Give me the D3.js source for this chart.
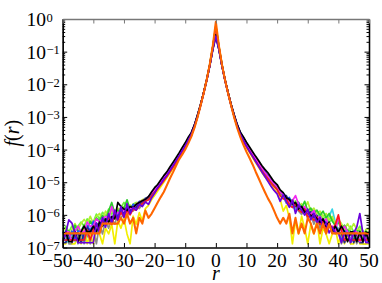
<!DOCTYPE html>
<html><head><meta charset="utf-8">
<script src="https://cdn.jsdelivr.net/npm/d3@7"></script>
<style>
html,body{margin:0;padding:0;background:#fff;}
svg{display:block;}
svg text{font-family:"Liberation Serif","Times New Roman",Tinos,"Nimbus Roman","DejaVu Serif",serif;}
</style>
</head><body>
<svg id="c" width="382" height="283"></svg>
<script>
// ---------------- data ----------------
const rValues = [-50,-49,-48,-47,-46,-45,-44,-43,-42,-41,-40,-39,-38,-37,-36,-35,-34,-33,-32,-31,-30,-29,-28,-27,-26,-25,-24,-23,-22,-21,-20,-19,-18,-17,-16,-15,-14,-13,-12,-11,-10,-9,-8,-7,-6,-5,-4,-3,-2,-1,0,1,2,3,4,5,6,7,8,9,10,11,12,13,14,15,16,17,18,19,20,21,22,23,24,25,26,27,28,29,30,31,32,33,34,35,36,37,38,39,40,41,42,43,44,45,46,47,48,49,50];
const xTickValues = [-50,-40,-30,-20,-10,0,10,20,30,40,50];
const yTickExponents = [0,-1,-2,-3,-4,-5,-6,-7];

const fGray = [1.3e-7,2.6e-7,1.3e-7,1.3e-7,2.6e-7,1.3e-7,2.6e-7,1.3e-7,2.6e-7,1.3e-7, 3.9e-7,1.3e-7,5.2e-7,2.6e-7,6.5e-7,3.9e-7,7.8e-7,5.2e-7,1.04e-6,7.8e-7, 1.17e-6,9.1e-7,1.43e-6,1.3e-6,1.82e-6,1.56e-6,2.2e-6,2.6e-6,2.9e-6,3.7e-6,
 5e-6,6.6e-6,8.7e-6,1.16e-5,1.56e-5,2.14e-5,3.05e-5,4.27e-5,6e-5,8.6e-5, 1.22e-4,1.84e-4,2.8e-4,5e-4,1.02e-3,2.28e-3,5.4e-3,1.36e-2,3.9e-2,1.35e-1, 0.5, 1.35e-1,3.9e-2,1.36e-2,5.4e-3,2.28e-3,1.02e-3,5e-4,2.8e-4,1.87e-4,1.27e-4, 9e-5,6.4e-5,4.55e-5,3.25e-5,2.34e-5,1.73e-5,1.3e-5,9.9e-6,7.8e-6,6.1e-6,
 4.1e-6,3.6e-6,2.3e-6,2.6e-6,1.7e-6,1.95e-6,1.3e-6,1.04e-6,1.43e-6,7.8e-7, 1.04e-6,5.2e-7,9.1e-7,3.9e-7,6.5e-7,2.6e-7,5.2e-7,3.9e-7,2.6e-7,3.9e-7, 1.3e-7,2.6e-7,2.6e-7,1.3e-7,2.6e-7,1.3e-7,2.6e-7,1.3e-7,1.3e-7,2.6e-7];

const fYellow = [1.3e-7,1.3e-7,2.6e-7,1.3e-7,1.3e-7,2.6e-7,1.3e-7,3.9e-7,1.3e-7,2.6e-7, 1.3e-7,3.9e-7,2.6e-7,1.3e-7,3.9e-7,2.6e-7,5.2e-7,1.3e-7,6.5e-7,3.9e-7, 7.8e-7,2.6e-7,1.3e-7,9.1e-7,5.2e-7,1.17e-6,6.5e-7,1.56e-6,1.95e-6,2.9e-6,
 3.9e-6,5.4e-6,7.3e-6,1e-5,1.37e-5,1.89e-5,2.68e-5,3.8e-5,5.4e-5,7.8e-5, 1.12e-4,1.7e-4,2.65e-4,4.8e-4,1e-3,2.25e-3,5.4e-3,1.37e-2,4e-2,1.45e-1, 0.62, 1.45e-1,4e-2,1.37e-2,5.4e-3,2.25e-3,1e-3,4.8e-4,2.65e-4,1.74e-4,1.16e-4, 8.1e-5,5.7e-5,4e-5,2.8e-5,2e-5,1.48e-5,1.1e-5,8.2e-6,6.2e-6,4.8e-6,
 3e-6,1.3e-6,1.95e-6,7.8e-7,1.3e-7,6.5e-7,2.6e-7,9.1e-7,3.9e-7,1.3e-7, 5.2e-7,2.6e-7,6.5e-7,1.3e-7,3.9e-7,2.6e-7,1.3e-7,2.6e-7,3.9e-7,1.3e-7, 2.6e-7,1.3e-7,2.6e-7,1.3e-7,1.3e-7,2.6e-7,1.3e-7,1.3e-7,1.3e-7,1.3e-7];

const fCyan = [3e-7,1.5e-7,1.5e-7,3e-7,3e-7,1.5e-7,3e-7,3e-7,4.5e-7,3e-7, 4.5e-7,3e-7,6e-7,4.5e-7,6e-7,7.5e-7,6e-7,9e-7,7.5e-7,1.2e-6, 1.05e-6,1.35e-6,1.2e-6,1.65e-6,1.5e-6,2.1e-6,2.4e-6,2.7e-6,3.3e-6,4e-6,
 5.2e-6,7e-6,9.2e-6,1.22e-5,1.65e-5,2.26e-5,3.17e-5,4.5e-5,6.3e-5,9.1e-5, 1.29e-4,1.94e-4,2.95e-4,5.2e-4,1.05e-3,2.3e-3,5.4e-3,1.35e-2,3.9e-2,1.35e-1, 0.45, 1.35e-1,3.9e-2,1.35e-2,5.4e-3,2.3e-3,1.05e-3,5.2e-4,2.95e-4,1.98e-4,1.34e-4, 9.5e-5,6.8e-5,4.8e-5,3.4e-5,2.47e-5,1.82e-5,1.39e-5,1.04e-5,8.2e-6,6.5e-6,
 4.5e-6,3.8e-6,2.4e-6,2.7e-6,1.8e-6,1.5e-6,2.1e-6,1.2e-6,1.35e-6,9e-7, 1.2e-6,7.5e-7,9e-7,6e-7,7.5e-7,4.5e-7,9e-7,1.5e-6,6e-7,3e-7, 4.5e-7,3e-7,3e-7,1.5e-7,3e-7,3e-7,1.5e-7,3e-7,1.5e-7,1.5e-7];

const fLime = [3e-7,4.5e-7,3e-7,4.5e-7,3e-7,4.5e-7,6e-7,4.5e-7,7.5e-7,6e-7, 6e-7,1.05e-6,7.5e-7,1.2e-6,9e-7,1.5e-6,1.05e-6,1.35e-6,1.2e-6,1.65e-6, 2.4e-6,1.8e-6,1.5e-6,2.1e-6,2.4e-6,2.1e-6,2.7e-6,3e-6,3.3e-6,4.3e-6,
 5.1e-6,6.8e-6,9e-6,1.21e-5,1.62e-5,2.23e-5,3.1e-5,4.45e-5,6.2e-5,9e-5, 1.27e-4,1.92e-4,2.9e-4,5.1e-4,1.04e-3,2.3e-3,5.4e-3,1.36e-2,3.9e-2,1.38e-1, 0.52, 1.38e-1,3.9e-2,1.36e-2,5.4e-3,2.3e-3,1.04e-3,5.1e-4,2.9e-4,1.96e-4,1.32e-4, 9.4e-5,6.6e-5,4.75e-5,3.3e-5,2.4e-5,1.8e-5,1.37e-5,1.03e-5,8.1e-6,6.4e-6,
 4.5e-6,3.5e-6,3.5e-6,2.4e-6,2.1e-6,2.7e-6,1.65e-6,1.95e-6,1.35e-6,1.5e-6, 1.05e-6,1.35e-6,9e-7,1.05e-6,7.5e-7,9e-7,6e-7,7.5e-7,4.5e-7,6e-7, 4.5e-7,4.5e-7,3e-7,4.5e-7,3e-7,3e-7,4.5e-7,3e-7,3e-7,3e-7];

const fYellowGreen = [3.6e-7,3.6e-7,1.8e-7,3.6e-7,5.4e-7,3.6e-7,5.4e-7,7.2e-7,5.4e-7,9e-7, 5.4e-7,9e-7,1.1e-6,7.2e-7,1.3e-6,9e-7,1.4e-6,1.1e-6,1.6e-6,1.3e-6, 1.8e-6,1.4e-6,2e-6,1.8e-6,2.3e-6,2.5e-6,2.9e-6,3.2e-6,3.6e-6,4.5e-6,
 5.7e-6,7.7e-6,1e-5,1.34e-5,1.83e-5,2.5e-5,3.48e-5,5e-5,6.95e-5,1.01e-4, 1.41e-4,2.14e-4,3.2e-4,5.5e-4,1.08e-3,2.3e-3,5.4e-3,1.35e-2,3.9e-2,1.4e-1, 0.6, 1.4e-1,3.9e-2,1.35e-2,5.4e-3,2.3e-3,1.08e-3,5.5e-4,3.2e-4,2.18e-4,1.48e-4, 1.05e-4,7.4e-5,5.3e-5,3.8e-5,2.73e-5,2e-5,1.53e-5,1.14e-5,9e-6,7.2e-6,
 4.9e-6,4.1e-6,3.1e-6,2.5e-6,2.9e-6,2.2e-6,1.8e-6,2.2e-6,1.6e-6,2.5e-6, 1.3e-6,1.6e-6,1.1e-6,1.3e-6,9e-7,1.1e-6,7.2e-7,9e-7,5.4e-7,7.2e-7, 5.4e-7,3.6e-7,5.4e-7,3.6e-7,5.4e-7,3.6e-7,3.6e-7,1.8e-7,3.6e-7,3.6e-7];

const fGreen = [1.6e-7,3.2e-7,3.2e-7,1.6e-7,4.8e-7,3.2e-7,3.2e-7,4.8e-7,3.2e-7,6.4e-7, 4.8e-7,8e-7,6.4e-7,9.6e-7,6.4e-7,1.3e-6,2.4e-6,1.1e-6,1.4e-6,1.1e-6, 1.6e-6,2.9e-6,1.4e-6,2.1e-6,1.8e-6,2.4e-6,2.2e-6,3e-6,3.5e-6,4.4e-6,
 5.5e-6,7.3e-6,9.6e-6,1.28e-5,1.73e-5,2.38e-5,3.3e-5,4.76e-5,6.7e-5,9.6e-5, 1.36e-4,2.05e-4,3.1e-4,5.4e-4,1.07e-3,2.3e-3,5.4e-3,1.35e-2,3.9e-2,1.4e-1, 0.55, 1.4e-1,3.9e-2,1.35e-2,5.4e-3,2.3e-3,1.07e-3,5.4e-4,3.1e-4,2.09e-4,1.42e-4, 1e-4,7.2e-5,5.1e-5,3.6e-5,2.6e-5,1.95e-5,1.46e-5,1.1e-5,8.6e-6,6.9e-6,
 4.8e-6,4e-6,2.9e-6,2.2e-6,2.6e-6,1.9e-6,2.4e-6,1.6e-6,2.6e-6,1.3e-6, 1.6e-6,1.1e-6,1.4e-6,9.6e-7,1.3e-6,8e-7,1.1e-6,6.4e-7,4.8e-7,6.4e-7, 3.2e-7,4.8e-7,3.2e-7,3.2e-7,1.6e-7,3.2e-7,3.2e-7,1.6e-7,3.2e-7,1.6e-7];

const fBlue = [1.6e-7,3.2e-7,1.6e-7,3.2e-7,1.6e-7,3.2e-7,3.2e-7,1.6e-7,4.8e-7,3.2e-7, 6.4e-7,4.8e-7,4.8e-7,8e-7,6.4e-7,9.6e-7,6.4e-7,1.3e-6,9.6e-7,1.4e-6, 1.1e-6,1.8e-6,1.4e-6,2.1e-6,1.8e-6,2.6e-6,2.4e-6,3.2e-6,3.5e-6,4.7e-6,
 6.1e-6,7.9e-6,1.05e-5,1.4e-5,1.89e-5,2.56e-5,3.66e-5,5.1e-5,7.3e-5,1.04e-4, 1.47e-4,2.2e-4,3.3e-4,5.6e-4,1.1e-3,2.35e-3,5.4e-3,1.33e-2,3.7e-2,1.25e-1, 0.38, 1.25e-1,3.7e-2,1.33e-2,5.4e-3,2.35e-3,1.12e-3,5.7e-4,3.35e-4,2.3e-4,1.56e-4, 1.1e-4,7.8e-5,5.6e-5,4e-5,2.86e-5,2.15e-5,1.63e-5,1.2e-5,9.6e-6,7.5e-6,
 5.3e-6,4.6e-6,3e-6,3.4e-6,2.2e-6,1.9e-6,2.4e-6,1.3e-6,1.6e-6,1.1e-6, 9.6e-7,1.3e-6,6.4e-7,8e-7,4.8e-7,6.4e-7,4.8e-7,3.2e-7,4.8e-7,3.2e-7, 1.6e-7,3.2e-7,3.2e-7,1.6e-7,3.2e-7,1.6e-7,1.6e-7,3.2e-7,1.6e-7,1.6e-7];

const fNavy = [1.4e-7,1.4e-7,2.8e-7,1.4e-7,2.8e-7,2.8e-7,1.4e-7,2.8e-7,4.2e-7,2.8e-7, 4.2e-7,5.6e-7,4.2e-7,7e-7,5.6e-7,8.4e-7,7e-7,1.1e-6,8.4e-7,1.25e-6, 1.1e-6,1.5e-6,1.25e-6,1.8e-6,1.7e-6,2.2e-6,2.5e-6,2.9e-6,3.4e-6,4.4e-6,
 5.9e-6,7.6e-6,1.01e-5,1.34e-5,1.83e-5,2.44e-5,3.54e-5,5e-5,6.95e-5,1.01e-4, 1.41e-4,2.1e-4,3.1e-4,5.4e-4,1.08e-3,2.3e-3,5.3e-3,1.3e-2,3.6e-2,1.15e-1, 0.28, 1.15e-1,3.6e-2,1.3e-2,5.3e-3,2.3e-3,1.1e-3,5.5e-4,3.2e-4,2.2e-4,1.5e-4, 1.05e-4,7.5e-5,5.3e-5,3.8e-5,2.73e-5,2e-5,1.56e-5,1.17e-5,9.1e-6,7.3e-6,
 5.2e-6,4e-6,3.9e-6,2.5e-6,2.8e-6,1.8e-6,2.1e-6,1.4e-6,1.5e-6,1.1e-6, 1.25e-6,8.4e-7,9.8e-7,5.6e-7,7e-7,4.2e-7,5.6e-7,2.8e-7,4.2e-7,2.8e-7, 2.8e-7,1.4e-7,2.8e-7,2.8e-7,1.4e-7,2.8e-7,1.4e-7,1.4e-7,2.8e-7,1.4e-7];

const fMagenta = [1.5e-7,3e-7,3e-7,1.5e-7,3e-7,4.5e-7,3e-7,3e-7,6e-7,4.5e-7, 4.5e-7,7.5e-7,6e-7,7.5e-7,9e-7,7.5e-7,1.8e-6,9e-7,1.2e-6,1.05e-6, 1.5e-6,1.2e-6,1.65e-6,1.5e-6,2.1e-6,2.4e-6,2.7e-6,3e-6,3.6e-6,4.6e-6,
 5.7e-6,7.7e-6,1.01e-5,1.34e-5,1.82e-5,2.49e-5,3.49e-5,4.97e-5,6.95e-5,1.01e-4, 1.41e-4,2.14e-4,3.2e-4,5.5e-4,1.08e-3,2.3e-3,5.4e-3,1.35e-2,3.8e-2,1.3e-1, 0.42, 1.3e-1,3.8e-2,1.35e-2,5.4e-3,2.3e-3,1.08e-3,5.5e-4,3.2e-4,2.18e-4,1.48e-4, 1.05e-4,7.4e-5,5.3e-5,3.8e-5,2.73e-5,2e-5,1.53e-5,1.14e-5,9e-6,7.2e-6,
 5e-6,4.1e-6,3e-6,2.4e-6,2.7e-6,3.9e-6,2.1e-6,1.5e-6,1.8e-6,1.2e-6, 1.05e-6,1.35e-6,7.5e-7,9e-7,6e-7,7.5e-7,4.5e-7,4.5e-7,3e-7,9e-7, 3e-7,4.5e-7,3e-7,1.5e-7,3e-7,3e-7,1.5e-7,3e-7,1.5e-7,3e-7];

const fRed = [1.7e-7,1.7e-7,1.7e-7,1.7e-7,1.7e-7,1.7e-7,1.7e-7,1.7e-7,3.4e-7,1.7e-7, 3.4e-7,5.1e-7,3.4e-7,6.8e-7,5.1e-7,8.5e-7,5.1e-7,1e-6,6.8e-7,1.2e-6, 8.5e-7,1.4e-6,1e-6,1.5e-6,1.4e-6,1.9e-6,2.2e-6,2.6e-6,2.9e-6,3.7e-6,
 4.8e-6,6.2e-6,8.3e-6,1.1e-5,1.49e-5,2.04e-5,2.85e-5,4e-5,5.7e-5,8.3e-5, 1.16e-4,1.76e-4,2.7e-4,4.9e-4,1.01e-3,2.27e-3,5.4e-3,1.37e-2,4e-2,1.42e-1, 0.6, 1.42e-1,4e-2,1.37e-2,5.4e-3,2.27e-3,1.01e-3,4.9e-4,2.7e-4,1.79e-4,1.21e-4, 8.6e-5,6.1e-5,4.3e-5,3.05e-5,2.2e-5,1.64e-5,1.25e-5,9.4e-6,7.4e-6,5.9e-6,
 3.9e-6,3.1e-6,3.1e-6,2e-6,1.7e-6,2.2e-6,1.4e-6,1.2e-6,1.5e-6,8.5e-7, 1e-6,6.8e-7,8.5e-7,5.1e-7,6.8e-7,3.4e-7,5.1e-7,3.4e-7,5.1e-7,1e-6, 3.4e-7,1.7e-7,1.7e-7,1.7e-7,1.7e-7,1.7e-7,1.7e-7,1.7e-7,1.7e-7,1.7e-7];

const fBlack = [1.5e-7,3e-7,1.5e-7,1.5e-7,3e-7,1.5e-7,3e-7,4.5e-7,3e-7,3e-7, 4.5e-7,3e-7,6e-7,4.5e-7,7.5e-7,6e-7,9e-7,7.5e-7,2.4e-6,1.8e-6, 1.5e-6,1.35e-6,1.8e-6,1.65e-6,2.1e-6,2.4e-6,2.7e-6,3e-6,3.6e-6,5e-6,
 6.8e-6,8.5e-6,1.16e-5,1.59e-5,2.07e-5,2.93e-5,4.03e-5,5.6e-5,7.9e-5,1.14e-4, 1.61e-4,2.38e-4,3.3e-4,5.7e-4,1.15e-3,2.4e-3,5.5e-3,1.35e-2,3.7e-2,1.2e-1, 0.33, 1.2e-1,3.7e-2,1.35e-2,5.5e-3,2.4e-3,1.15e-3,5.8e-4,3.4e-4,2.42e-4,1.68e-4, 1.2e-4,8.6e-5,6.2e-5,4.55e-5,3.25e-5,2.47e-5,1.95e-5,1.43e-5,1.04e-5,8.5e-6,
 5.8e-6,4.8e-6,3.3e-6,3e-6,2.1e-6,2.4e-6,1.5e-6,1.8e-6,1.2e-6,1.35e-6, 9e-7,1.05e-6,7.5e-7,6e-7,7.5e-7,4.5e-7,6e-7,3e-7,4.5e-7,3e-7, 4.5e-7,3e-7,1.5e-7,3e-7,3e-7,1.5e-7,3e-7,1.5e-7,3e-7,1.5e-7];

const fPurple = [1.4e-7,2.8e-7,7e-7,5.6e-7,2.8e-7,1.4e-7,1.4e-7,1.4e-7,1.4e-7,1.4e-7, 1.4e-7,5.6e-7,2.8e-7,8.4e-7,4.2e-7,1.1e-6,5.6e-7,1.4e-6,7e-7,1.8e-6, 8.4e-7,2.2e-6,1.1e-6,1.7e-6,1.4e-6,2.1e-6,1.8e-6,2.5e-6,2.1e-6,3.3e-6,
 4.6e-6,6.8e-6,8.8e-6,1.24e-5,1.59e-5,2.26e-5,3.17e-5,4.5e-5,6.3e-5,9.1e-5, 1.29e-4,1.94e-4,2.95e-4,5.1e-4,1.02e-3,2.2e-3,5.2e-3,1.3e-2,3.6e-2,1.15e-1, 0.3, 1.15e-1,3.6e-2,1.3e-2,5.2e-3,2.2e-3,1.02e-3,5.1e-4,2.9e-4,1.9e-4,1.28e-4, 8.8e-5,6.2e-5,4.3e-5,3e-5,2.1e-5,1.5e-5,1.06e-5,7.5e-6,5.6e-6,4.4e-6,
 2.6e-6,4.2e-6,2.5e-6,1.7e-6,2.8e-6,1.1e-6,2e-6,1.4e-6,9.8e-7,1.5e-6, 7e-7,1.1e-6,5.6e-7,8.4e-7,4.2e-7,5.6e-7,2.8e-7,4.2e-7,2.8e-7,2.8e-7, 1.4e-7,2.8e-7,2.8e-7,1.4e-7,2.8e-7,4.2e-7,1.1e-6,2.8e-7,1.4e-7,1.4e-7];

const fOrange = [2.7e-7,2.7e-7,2.7e-7,2.7e-7,2.7e-7,2.7e-7,2.7e-7,2.7e-7,2.7e-7,2.7e-7, 2.7e-7,2.7e-7,2.7e-7,5.4e-7,5.4e-7,5.4e-7,5.4e-7,5.4e-7,5.4e-7,8.1e-7, 5.4e-7,1.08e-6,5.4e-7,8.1e-7,2.7e-7,8.1e-7,5.4e-7,1.35e-6,8.1e-7,1.08e-6,
 1.6e-6,2.4e-6,3.5e-6,5e-6,8e-6,1.3e-5,2e-5,3.2e-5,5e-5,7e-5, 1e-4,1.55e-4,2.5e-4,4.6e-4,9.6e-4,2.2e-3,5.2e-3,1.35e-2,4e-2,1.5e-1, 0.82, 1.5e-1,4e-2,1.35e-2,5.2e-3,2.2e-3,9.5e-4,4.5e-4,2.4e-4,1.4e-4,8.5e-5, 5.5e-5,3.5e-5,2.1e-5,1.3e-5,8e-6,5e-6,3.2e-6,2.2e-6,1.35e-6,8.1e-7,
 5.4e-7,8.1e-7,5.4e-7,1.08e-6,2.7e-7,8.1e-7,2.7e-7,5.4e-7,2.7e-7,8.1e-7, 5.4e-7,2.7e-7,5.4e-7,2.7e-7,5.4e-7,2.7e-7,5.4e-7,2.7e-7,2.7e-7,2.7e-7, 2.7e-7,2.7e-7,2.7e-7,2.7e-7,2.7e-7,2.7e-7,2.7e-7,2.7e-7,2.7e-7,2.7e-7];

// drawing order (last on top)
const seriesList = [
  {values: fGray, color: "#8c8c8c"},
  {values: fYellow, color: "#f2ee00"},
  {values: fCyan, color: "#33d6e6"},
  {values: fLime, color: "#70f23a"},
  {values: fYellowGreen, color: "#b4f032"},
  {values: fGreen, color: "#2ccc2c"},
  {values: fBlue, color: "#2050ff"},
  {values: fNavy, color: "#262690"},
  {values: fMagenta, color: "#f028f0"},
  {values: fRed, color: "#ff1a1a"},
  {values: fBlack, color: "#000000"},
  {values: fPurple, color: "#6a00dc"},
  {values: fOrange, color: "#ff6600", width: 2.1}
];
seriesList.forEach((s,i)=>{ if (s.values.length !== rValues.length) throw new Error("series "+i+" length "+s.values.length); });

// ---------------- chart ----------------
const m = {l: 62.7, r: 369, t: 19, b: 247.5};
const svg = d3.select("#c");
const x = d3.scaleLinear().domain([-50, 50]).range([m.l, m.r]);
const y = d3.scaleLog().domain([1e-7, 1]).range([m.b, m.t]);

svg.append("defs").append("clipPath").attr("id", "clip")
  .append("rect").attr("x", m.l).attr("y", m.t).attr("width", m.r - m.l).attr("height", m.b - m.t);

const line = d3.line().x((d, i) => x(rValues[i])).y(d => y(d));
const gLines = svg.append("g").attr("clip-path", "url(#clip)");
seriesList.forEach(s => {
  gLines.append("path").attr("d", line(s.values)).attr("fill", "none")
    .attr("stroke", s.color).attr("stroke-width", s.width || 1.7)
    .attr("stroke-linejoin", "round").attr("stroke-linecap", "round");
});

// axes
const majors = yTickExponents.map(e => Math.pow(10, e));
const minors = y.ticks().filter(v => !majors.some(mj => Math.abs(mj - v) / mj < 1e-6));

function styleAxis(g, color, w) {
  g.select(".domain").attr("stroke", color).attr("stroke-width", w);
  g.selectAll(".tick line").attr("stroke", color).attr("stroke-width", 1);
  g.selectAll(".tick text").remove();
}
const axL = svg.append("g").attr("transform", `translate(${m.l},0)`)
  .call(d3.axisLeft(y).tickValues(majors).tickSize(-4.5).tickSizeOuter(0).tickFormat(""));
styleAxis(axL, "#000", 1.3);
const axLm = svg.append("g").attr("transform", `translate(${m.l},0)`)
  .call(d3.axisLeft(y).tickValues(minors).tickSize(-2.5).tickSizeOuter(0).tickFormat(""));
styleAxis(axLm, "#000", 1.3);
const axR = svg.append("g").attr("transform", `translate(${m.r},0)`)
  .call(d3.axisRight(y).tickValues(majors).tickSize(-4.5).tickSizeOuter(0).tickFormat(""));
styleAxis(axR, "#000", 1.3);
const axRm = svg.append("g").attr("transform", `translate(${m.r},0)`)
  .call(d3.axisRight(y).tickValues(minors).tickSize(-2.5).tickSizeOuter(0).tickFormat(""));
styleAxis(axRm, "#000", 1.3);
const axB = svg.append("g").attr("transform", `translate(0,${m.b})`)
  .call(d3.axisBottom(x).tickValues(xTickValues).tickSize(-4.5).tickSizeOuter(0).tickFormat(""));
styleAxis(axB, "#000", 1.3);
const axT = svg.append("g").attr("transform", `translate(0,${m.t})`)
  .call(d3.axisTop(x).tickValues(xTickValues).tickSize(-4.5).tickSizeOuter(0).tickFormat(""));
styleAxis(axT, "#777", 1.6);

// y tick labels 10^e
yTickExponents.forEach(e => {
  const yy = y(Math.pow(10, e));
  svg.append("text").attr("x", 46).attr("y", yy + 7).attr("text-anchor", "end")
    .attr("font-size", 19.5).attr("fill", "#000").text("10");
  svg.append("text").attr("x", 46.5).attr("y", yy + 2.5).attr("text-anchor", "start")
    .attr("font-size", 12.5).attr("fill", "#000")
    .text(e === 0 ? "0" : "\u2212" + (-e));
});

// x tick labels (digits centred, minus hanging left)
xTickValues.forEach(v => {
  const xx = x(v);
  const t = svg.append("text").attr("x", xx).attr("y", 267).attr("text-anchor", "middle")
    .attr("font-size", 19.5).attr("fill", "#000").text(String(Math.abs(v)));
  if (v < 0) {
    const w = t.node().getComputedTextLength();
    svg.append("text").attr("x", xx - w / 2).attr("y", 267).attr("text-anchor", "end")
      .attr("font-size", 19.5).attr("fill", "#000").text("\u2212");
  }
});

// axis titles
svg.append("text").attr("x", x(0)).attr("y", 280).attr("text-anchor", "middle")
  .attr("font-size", 20).attr("font-style", "italic").text("r");
const yl = svg.append("text").attr("transform", `translate(19,${(m.t + m.b) / 2}) rotate(-90)`)
  .attr("text-anchor", "middle").attr("font-size", 20);
yl.append("tspan").attr("font-style", "italic").text("f");
yl.append("tspan").text("(");
yl.append("tspan").attr("font-style", "italic").text("r");
yl.append("tspan").text(")");
</script>
</body></html>
